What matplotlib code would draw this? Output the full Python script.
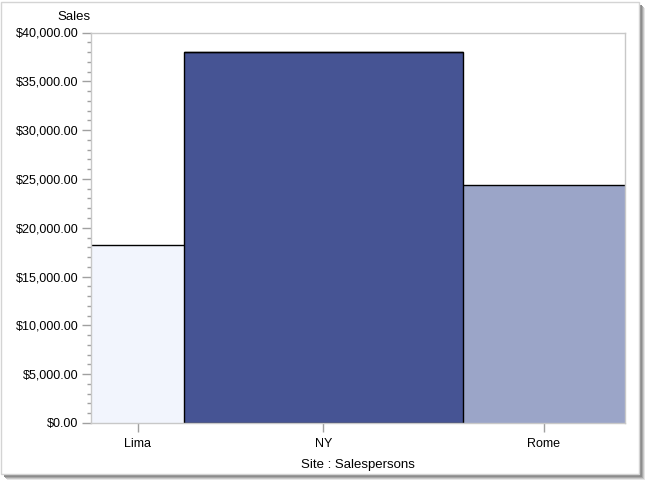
import matplotlib.pyplot as plt
from matplotlib.patches import Rectangle
from matplotlib.ticker import FuncFormatter, MultipleLocator

plt.rcParams['font.family'] = ['Liberation Sans', 'DejaVu Sans']

# Data: sales by site, bar width = number of salespersons
sites = ['Lima', 'NY', 'Rome']
salespersons = [4, 12, 7]
sales = [18200, 38000, 24350]
colors = ['#f2f5fd', '#465494', '#9ba5c8']

fig = plt.figure(figsize=(6.48, 4.83), dpi=100)
fig.patch.set_facecolor('white')

# panel with drop shadow
W, H = 648, 483
for i, c in enumerate(['#e6e6e6', '#c8c8c8', '#a8a8a8', '#8c8c8c']):
    off = 6 - i
    fig.patches.append(Rectangle(((1 + off) / W, (H - 474 - off) / H), 638 / W, 472 / H,
                                 transform=fig.transFigure, facecolor=c, edgecolor='none', zorder=-3 + i * 0.1))
fig.patches.append(Rectangle((1 / W, (H - 474) / H), 638 / W, 472 / H, transform=fig.transFigure,
                             facecolor='white', edgecolor='#d4d4d4', linewidth=1, zorder=-2))

ax = fig.add_axes([91.5 / W, (H - 423) / H, (625 - 91.5) / W, (423 - 32.5) / H])
ax.set_facecolor('white')

lefts = [sum(salespersons[:i]) for i in range(len(sites))]
centers = [l + w / 2 for l, w in zip(lefts, salespersons)]

ax.bar(lefts, sales, width=salespersons, align='edge', color=colors, edgecolor='none', zorder=1)
# outlines: top edges and the middle bar's sides
ax.hlines(sales, lefts, [l + w for l, w in zip(lefts, salespersons)], color='black', linewidth=1.0, zorder=2)
ax.bar(lefts[1], sales[1], width=salespersons[1], align='edge', color='none',
       edgecolor='black', linewidth=1.0, zorder=2)

ax.set_xlim(0, sum(salespersons))
ax.set_ylim(0, 40000)
ax.set_xticks(centers)
ax.set_xticklabels(sites)
ax.yaxis.set_major_locator(MultipleLocator(5000))
ax.yaxis.set_minor_locator(MultipleLocator(1000))
ax.yaxis.set_major_formatter(FuncFormatter(lambda v, p: '${:,.2f}'.format(v)))

for s in ax.spines.values():
    s.set_color('#c8c8c8')
    s.set_linewidth(1)
    s.set_zorder(3)
ax.tick_params(axis='both', which='major', length=6.5, width=1, color='#a0a0a0',
               labelsize=9, labelcolor='black', pad=3)
ax.tick_params(axis='x', which='major', pad=4.5)
ax.tick_params(axis='y', which='minor', length=2.8, width=1, color='#a0a0a0')

ax.set_xlabel('Site : Salespersons', fontsize=9.5, labelpad=6)
fig.text(74 / W, 1 - 17 / H, 'Sales', fontsize=9.5, ha='center', va='center')

fig.savefig('out.png', dpi=100)
